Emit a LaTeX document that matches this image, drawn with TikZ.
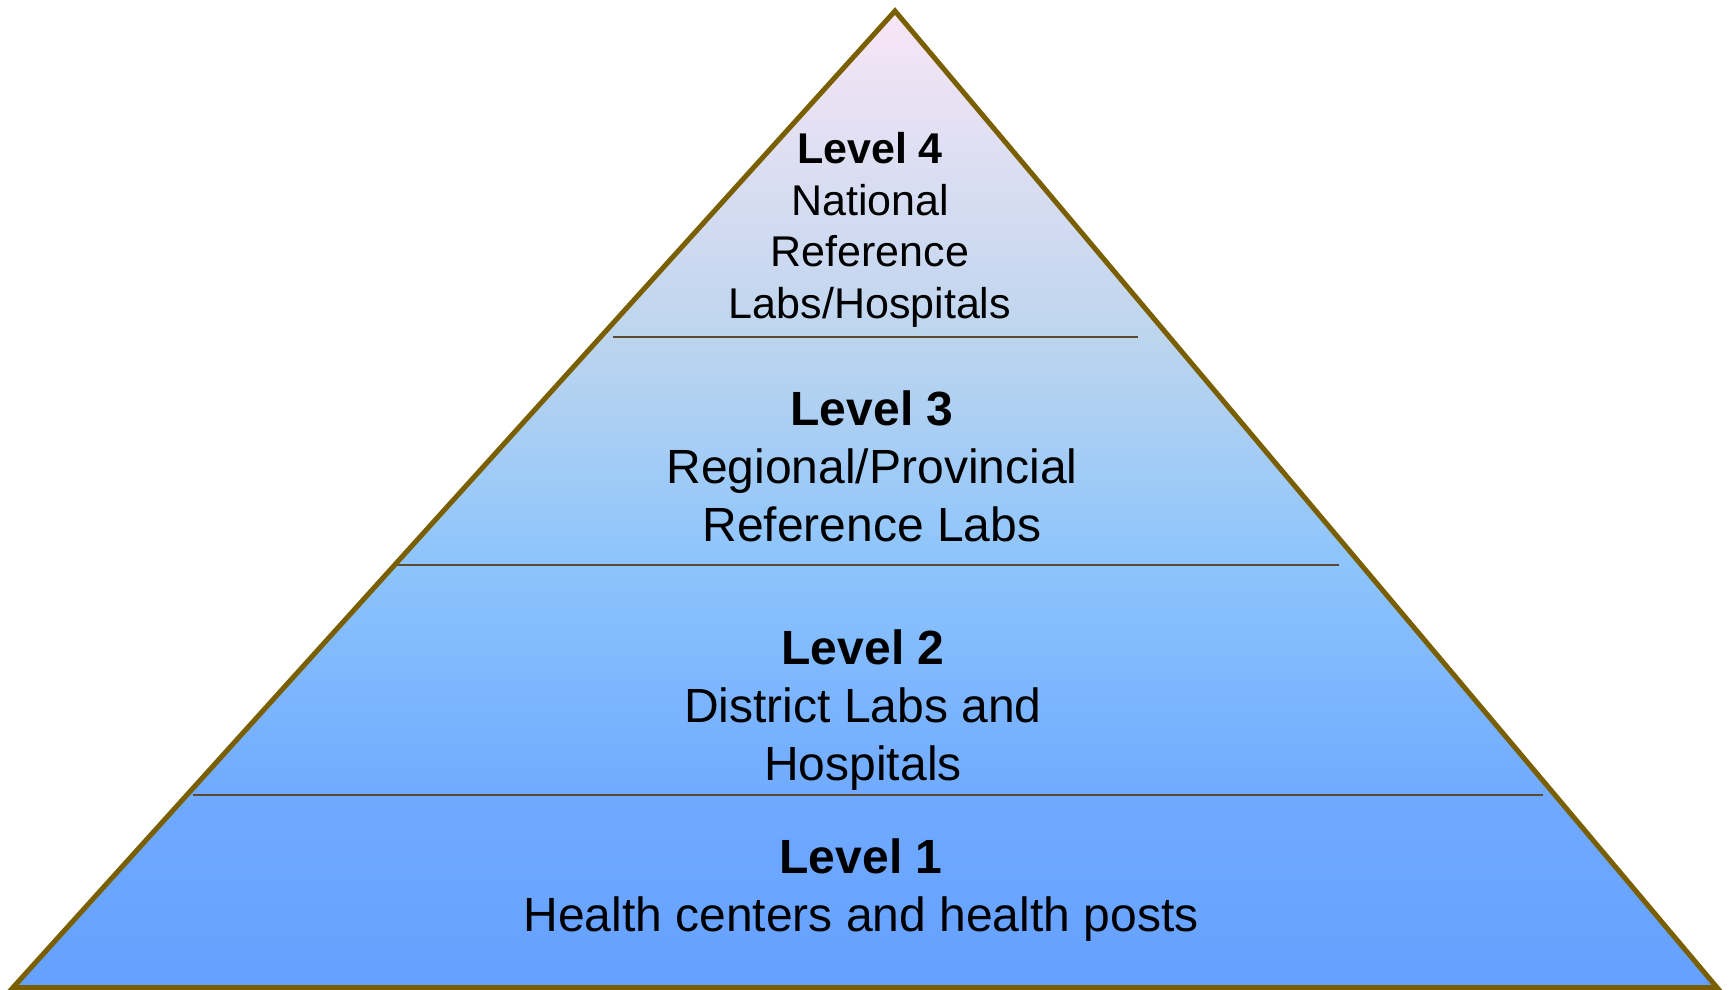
\documentclass[tikz,border=0pt]{standalone}
\usepackage{fontspec}
\setmainfont{Liberation Sans}
\definecolor{cA}{RGB}{100,160,255}
\definecolor{cB}{RGB}{112,170,255}
\definecolor{cC}{RGB}{140,196,252}
\definecolor{cD}{RGB}{189,213,238}
\definecolor{cE}{RGB}{248,230,246}
\definecolor{edgec}{RGB}{122,95,0}
\definecolor{sepc}{RGB}{91,74,48}
\pgfdeclareverticalshading{pyr}{100bp}{color(0bp)=(cA); color(25bp)=(cA); color(34.8bp)=(cB); color(46.6bp)=(cC); color(58.3bp)=(cD); color(75bp)=(cE); color(100bp)=(cE)}
\tikzset{
  sep/.style={draw=sepc, line width=2pt},
  lvl/.style={align=center, text=black, inner sep=0pt},
  big/.style={font=\fontsize{48}{58}\selectfont},
  small/.style={font=\fontsize{43}{51.7}\selectfont}
}
\begin{document}
\begin{tikzpicture}[x=1pt,y=-1pt]
\useasboundingbox (0,0) rectangle (1729,990);
\coordinate (apex) at (895,11);
\coordinate (bl) at (13,987.5);
\coordinate (br) at (1717,987.5);
\shade[shading=pyr] (apex) -- (br) -- (bl) -- cycle;
\coordinate (s4l) at (613,337); \coordinate (s4r) at (1138,337);
\coordinate (s3l) at (394,565); \coordinate (s3r) at (1339,565);
\coordinate (s2l) at (193,795); \coordinate (s2r) at (1543,795);
\draw[sep] (s4l) -- (s4r);
\draw[sep] (s3l) -- (s3r);
\draw[sep] (s2l) -- (s2r);
\draw[draw=edgec, line width=5pt, line join=miter] (apex) -- (br) -- (bl) -- cycle;
\node[lvl, small] (l4) at (870,230) {\textbf{Level 4}\\National\\Reference\\Labs/Hospitals};
\node[lvl, big] (l3) at (872,466) {\textbf{Level 3}\\Regional/Provincial\\Reference Labs};
\node[lvl, big] (l2) at (863,710) {\textbf{Level 2}\\District Labs and\\Hospitals};
\node[lvl, big] (l1) at (861,890) {\textbf{Level 1}\\Health centers and health posts};
\end{tikzpicture}
\end{document}
